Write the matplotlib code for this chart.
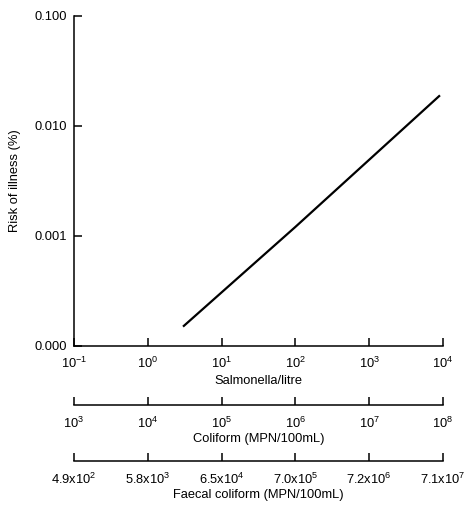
import numpy as np
import matplotlib.pyplot as plt
from matplotlib.ticker import FixedLocator, FixedFormatter, NullLocator

plt.rcParams['font.family'] = ['Liberation Sans', 'DejaVu Sans']
plt.rcParams['mathtext.fontset'] = 'custom'
plt.rcParams['mathtext.rm'] = 'Liberation Sans'
FONT_SIZE = 9.3

# dose-response line
salmonella = [3.0, 100.0, 9100.0]
risk = [1.5e-4, 1.21e-3, 0.019]

risk_ticks = [1e-4, 1e-3, 1e-2, 1e-1]
risk_labels = ['0.000', '0.001', '0.010', '0.100']

salmonella_ticks = [1e-1, 1e0, 1e1, 1e2, 1e3, 1e4]
coliform_ticks = [1e3, 1e4, 1e5, 1e6, 1e7, 1e8]
faecal_labels = ['4.9x10$^2$', '5.8x10$^3$', '6.5x10$^4$',
                 '7.0x10$^5$', '7.2x10$^6$', '7.1x10$^7$']

W, H = 469, 507
fig = plt.figure(figsize=(W / 100, H / 100), dpi=100)

def box(x0, y0, x1, y1):
    return [x0 / W, 1 - y1 / H, (x1 - x0) / W, (y1 - y0) / H]

ax = fig.add_axes(box(74, 16, 443, 346))
ax.plot(salmonella, risk, color='black', lw=1.6, solid_capstyle='butt')
ax.set_xscale('log')
ax.set_yscale('log')
ax.set_xlim(1e-1, 1e4)
ax.set_ylim(1e-4, 1e-1)
ax.yaxis.set_major_locator(FixedLocator(risk_ticks))
ax.yaxis.set_major_formatter(FixedFormatter(risk_labels))
ax.yaxis.set_minor_locator(NullLocator())
ax.xaxis.set_major_locator(FixedLocator(salmonella_ticks))
ax.xaxis.set_minor_locator(NullLocator())
for s in ['top', 'right']:
    ax.spines[s].set_visible(False)
for s in ['left', 'bottom']:
    ax.spines[s].set_linewidth(1.1)
ax.tick_params(direction='in', length=6, width=1.1, labelsize=FONT_SIZE,
               pad=7, color='black')
ax.tick_params(axis='y', pad=5)
ax.set_xlabel('Salmonella/litre', fontsize=FONT_SIZE, labelpad=3)
ax.set_ylabel('Risk of illness (%)', fontsize=FONT_SIZE, labelpad=10)

def scale_axis(y, title):
    sub = fig.add_axes(box(74, y - 2, 443, y))
    for s in ['top', 'right', 'left']:
        sub.spines[s].set_visible(False)
    sub.spines['bottom'].set_linewidth(1.1)
    sub.set_yticks([])
    sub.tick_params(axis='x', direction='in', length=6, width=1.1,
                    labelsize=FONT_SIZE, pad=8)
    sub.set_xlabel(title, fontsize=FONT_SIZE, labelpad=1.5)
    sub.patch.set_visible(False)
    return sub

coli = scale_axis(405, 'Coliform (MPN/100mL)')
coli.set_xscale('log')
coli.set_xlim(1e3, 1e8)
coli.xaxis.set_major_locator(FixedLocator(coliform_ticks))
coli.xaxis.set_minor_locator(NullLocator())

faecal = scale_axis(461, 'Faecal coliform (MPN/100mL)')
faecal.set_xlim(0, len(faecal_labels) - 1)
faecal.set_xticks(np.arange(len(faecal_labels)))
faecal.set_xticklabels(faecal_labels)

fig.savefig('out.png', dpi=100)
